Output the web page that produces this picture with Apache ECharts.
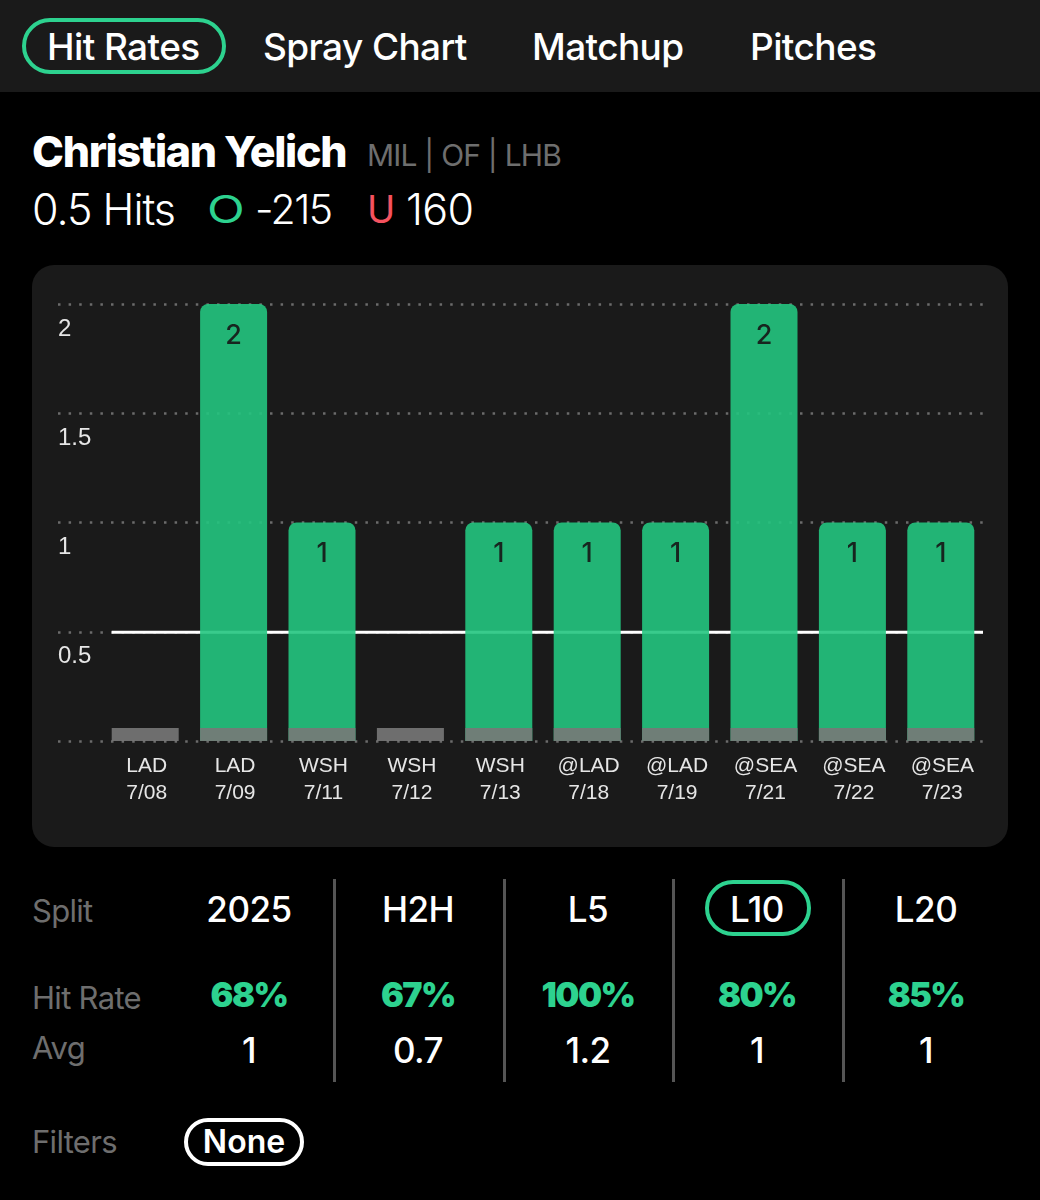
<!DOCTYPE html>
<html lang="en">
<head>
    <meta charset="UTF-8">
    <title>Christian Yelich hit rates</title>
    <script src="https://cdn.jsdelivr.net/npm/echarts@6/dist/echarts.min.js"></script>
    <style>
        html, body { margin: 0; background: #000; }
        body { position: relative; width: 1040px; height: 1200px; overflow: hidden; font-family: Inter, sans-serif; color: #fff; }
        .abs { position: absolute; white-space: nowrap; line-height: 1; }
        .mid { transform: translateY(-50%); }
        .center { transform: translate(-50%, -50%); }
        #nav { position: absolute; left: 0; top: 0; width: 1040px; height: 92px; background: #1a1a1a; }
        .tab { font-size: 37px; font-weight: 500; letter-spacing: -0.6px; }
        .pill { position: absolute; box-sizing: border-box; border-radius: 30px; border: 4px solid #2dd28f; }
        .label { font-size: 31px; color: #6e6e6e; letter-spacing: -0.7px; }
        .split { font-size: 35px; font-weight: 500; letter-spacing: -0.5px; }
        .rate { font-size: 34px; font-weight: 900; color: #2dd28f; letter-spacing: -1.5px; }
        .divider { position: absolute; top: 879px; width: 2.5px; height: 203px; background: #555; }
        #chart { position: absolute; left: 32px; top: 265px; width: 976px; height: 582px; border-radius: 22px; overflow: hidden; }
    </style>
</head>
<body>
<div id="nav"></div>
<div class="pill" style="left:22px;top:18px;width:204px;height:56px"></div>
<div class="pill" style="left:705px;top:880px;width:106px;height:56px"></div>
<div class="pill" style="left:184px;top:1118px;width:120px;height:48px;border-color:#fff"></div>
<div id="chart"></div>
<script type="text/javascript">
    const teams = ['LAD', 'LAD', 'WSH', 'WSH', 'WSH', '@LAD', '@LAD', '@SEA', '@SEA', '@SEA'];
    const dates = ['7/08', '7/09', '7/11', '7/12', '7/13', '7/18', '7/19', '7/21', '7/22', '7/23'];
    const hits = [0, 2, 1, 0, 1, 1, 1, 2, 1, 1];
    const floor_strip = [0.06, 0.06, 0.06, 0.06, 0.06, 0.06, 0.06, 0.06, 0.06, 0.06];
    const hit_line = 0.5;

    const tabs = ['Hit Rates', 'Spray Chart', 'Matchup', 'Pitches'];
    const tab_x = [47, 263, 532, 750];
    const splits = ['2025', 'H2H', 'L5', 'L10', 'L20'];
    const hit_rates = ['68%', '67%', '100%', '80%', '85%'];
    const averages = ['1', '0.7', '1.2', '1', '1'];
    const column_x = [249, 418, 588, 757, 926];
    const divider_x = [333, 503, 672, 842];

    function add_text(text, cls, style) {
        let el = document.createElement('div');
        el.className = 'abs ' + cls;
        el.textContent = text;
        el.style.cssText = style;
        document.body.appendChild(el);
    }

    tabs.forEach((t, i) => add_text(t, 'tab mid', `left:${tab_x[i]}px;top:46px`));
    add_text('Christian Yelich', 'mid', 'left:32px;top:151px;font-size:43px;font-weight:800;letter-spacing:-1.3px');
    add_text('MIL | OF | LHB', 'mid', 'left:367px;top:155px;font-size:30px;color:#6e6e6e;letter-spacing:-0.8px');
    add_text('0.5 Hits', 'mid', 'left:32px;top:209px;font-size:43px;font-weight:300;letter-spacing:-1px');
    add_text('O', 'abs', 'left:207px;top:209px;font-size:38px;font-weight:400;color:#2dd28f;transform:translateY(-50%) scaleX(1.3);transform-origin:left center');
    add_text('-215', 'mid', 'left:255px;top:209px;font-size:41px;font-weight:300;letter-spacing:-1.6px');
    add_text('U', 'mid', 'left:367px;top:209px;font-size:38px;font-weight:400;color:#f5525f');
    add_text('160', 'mid', 'left:406px;top:209px;font-size:43px;font-weight:300;letter-spacing:-0.6px');

    add_text('Split', 'label mid', 'left:32px;top:910px');
    add_text('Hit Rate', 'label mid', 'left:32px;top:997px');
    add_text('Avg', 'label mid', 'left:32px;top:1047px');
    add_text('Filters', 'label mid', 'left:32px;top:1141px');
    add_text('None', 'center', 'left:244px;top:1142px;font-size:32px;font-weight:600');

    column_x.forEach((x, i) => {
        add_text(splits[i], 'split center', `left:${x}px;top:909px`);
        add_text(hit_rates[i], 'rate center', `left:${x}px;top:995px`);
        add_text(averages[i], 'split center', `left:${x}px;top:1050px`);
    });
    divider_x.forEach(x => {
        let el = document.createElement('div');
        el.className = 'divider';
        el.style.left = x + 'px';
        document.body.appendChild(el);
    });

    let chart = echarts.init(document.getElementById('chart'));
    chart.setOption({
        animation: false,
        backgroundColor: '#1a1a1a',
        textStyle: {fontFamily: '"Liberation Sans", Arial, sans-serif'},
        grid: [
            {left: 69, top: 39, width: 884, height: 437},
            {left: 26, top: 39, width: 925, height: 437}
        ],
        xAxis: [
            {
                type: 'category',
                gridIndex: 0,
                data: teams.map((t, i) => t + '\n' + dates[i]),
                axisLine: {show: false},
                axisTick: {show: false},
                axisLabel: {color: '#e6e6e6', fontSize: 21, lineHeight: 27, margin: 12, interval: 0, padding: [0, 0, 0, 3]}
            },
            {type: 'value', gridIndex: 1, min: 0, max: 1, show: false}
        ],
        yAxis: [
            {type: 'value', gridIndex: 0, min: 0, max: 2, interval: 0.5, show: false},
            {
                type: 'value',
                gridIndex: 1,
                min: 0,
                max: 2,
                interval: 0.5,
                axisLine: {show: false},
                axisTick: {show: false},
                axisLabel: {
                    inside: true,
                    showMinLabel: false,
                    margin: 0,
                    color: '#e6e6e6',
                    fontSize: 24,
                    verticalAlign: 'top',
                    padding: [13, 0, 0, 0]
                },
                splitLine: {lineStyle: {color: '#6b6b6b', width: 2.5, type: [2.5, 8.1]}}
            }
        ],
        series: [
            {
                // the 0.5 line starts at the left edge of the first bar
                type: 'custom',
                xAxisIndex: 0,
                yAxisIndex: 0,
                z: 1,
                clip: false,
                data: [[0, hit_line]],
                renderItem: (params, api) => {
                    let start = api.coord([api.value(0), api.value(1)]);
                    return {
                        type: 'line',
                        shape: {
                            x1: start[0] - 33.5,
                            y1: start[1] + 0.5,
                            x2: params.coordSys.x + params.coordSys.width - 2,
                            y2: start[1] + 0.5
                        },
                        style: {stroke: '#fff', lineWidth: 3}
                    };
                }
            },
            {
                type: 'bar',
                xAxisIndex: 0,
                yAxisIndex: 0,
                z: 2,
                data: hits,
                barWidth: 67,
                barGap: '-100%',
                itemStyle: {color: 'rgba(35,197,127,0.9)', borderRadius: [8, 8, 0, 0]},
                label: {
                    show: true,
                    position: 'insideTop',
                    distance: 18,
                    color: '#17251f',
                    fontFamily: 'Inter, sans-serif',
                    fontWeight: 500,
                    fontSize: 27,
                    formatter: p => p.value > 0 ? p.value : ''
                }
            },
            {
                type: 'bar',
                xAxisIndex: 0,
                yAxisIndex: 0,
                z: 3,
                data: floor_strip,
                barWidth: 67,
                barGap: '-100%',
                itemStyle: {color: 'rgba(120,120,120,0.9)'}
            }
        ]
    });
</script>
</body>
</html>
